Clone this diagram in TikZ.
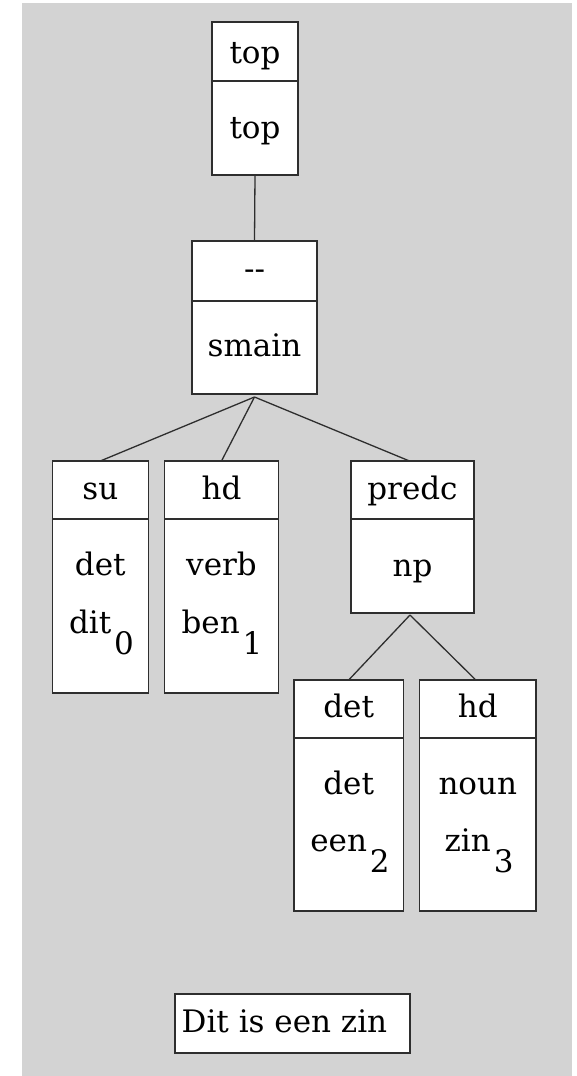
\documentclass[tikz,border=0pt]{standalone}
\usepackage{fontspec}
\setmainfont{DejaVu Serif}
\definecolor{bgc}{HTML}{D3D3D3}
\definecolor{ink}{HTML}{2E2E2E}
\tikzset{
  box/.style={draw=ink, fill=white, line width=1.3pt, inner sep=0pt, outer sep=0pt, rectangle},
  lbl/.style={anchor=base, inner sep=0pt, text=black, font=\fontsize{31}{37}\selectfont},
  edge/.style={draw=ink, line width=1.3pt},
  divider/.style={draw=ink, line width=1.3pt}
}
\newcommand{\sub}[1]{\hspace{3pt}\raisebox{-21pt}{#1}}
\begin{document}
\begin{tikzpicture}[x=1pt,y=-1pt]
\useasboundingbox (0,0) rectangle (577,1076);
\fill[white] (0,0) rectangle (577,1076);
\fill[bgc] (22,3) rectangle (572,1076);

% boxes
\node[box, minimum width=86pt, minimum height=153pt] (topbox) at (255,98.5) {};
\node[box, minimum width=125pt, minimum height=153pt] (smain) at (254.5,317.5) {};
\node[box, minimum width=96pt, minimum height=232pt] (su) at (100.3,577) {};
\node[box, minimum width=113.5pt, minimum height=232pt] (hdv) at (221.5,577) {};
\node[box, minimum width=123pt, minimum height=152pt] (predc) at (412.5,537) {};
\node[box, minimum width=109.5pt, minimum height=231pt] (det) at (348.7,795.5) {};
\node[box, minimum width=116.5pt, minimum height=231pt] (hdn) at (477.8,795.5) {};
\node[box, minimum width=235pt, minimum height=59pt] (sent) at (292.5,1023.5) {};

% dividers
\draw[divider] ([yshift=-59pt]topbox.north west) -- ([yshift=-59pt]topbox.north east);
\draw[divider] ([yshift=-60pt]smain.north west) -- ([yshift=-60pt]smain.north east);
\draw[divider] ([yshift=-58pt]su.north west) -- ([yshift=-58pt]su.north east);
\draw[divider] ([yshift=-58pt]hdv.north west) -- ([yshift=-58pt]hdv.north east);
\draw[divider] ([yshift=-58pt]predc.north west) -- ([yshift=-58pt]predc.north east);
\draw[divider] ([yshift=-58pt]det.north west) -- ([yshift=-58pt]det.north east);
\draw[divider] ([yshift=-58pt]hdn.north west) -- ([yshift=-58pt]hdn.north east);

% connectors
\coordinate (apex1) at ([yshift=-3pt]smain.south);
\coordinate (apex2) at (410,615);
\draw[edge] (topbox.south) -- (smain.north);
\draw[edge] (apex1) -- (su.north);
\draw[edge] (apex1) -- (hdv.north);
\draw[edge] (apex1) -- ([xshift=-3pt]predc.north);
\draw[edge] (apex2) -- (det.north);
\draw[edge] (apex2) -- ([xshift=-2pt]hdn.north);

% labels
\node[lbl] (t1) at (255,63) {top};
\node[lbl] (t2) at (255,138) {top};
\node[lbl] (s1) at (254.5,279) {-{}-};
\node[lbl] (s2) at (254.5,356.7) {smain};
\node[lbl] (a1) at (100.3,499) {su};
\node[lbl] (a2) at (100.3,575.7) {det};
\node[lbl] (a3) at (101.5,633.3) {dit\sub{0}};
\node[lbl] (b1) at (221.5,499) {hd};
\node[lbl] (b2) at (221.5,575.7) {verb};
\node[lbl] (b3) at (222,633.3) {ben\sub{1}};
\node[lbl] (c1) at (412.5,499) {predc};
\node[lbl] (c2) at (412.5,576) {np};
\node[lbl] (d1) at (348.7,717.3) {det};
\node[lbl] (d2) at (348.7,794) {det};
\node[lbl] (d3) at (350,851.7) {een\sub{2}};
\node[lbl] (e1) at (477.8,717.3) {hd};
\node[lbl] (e2) at (477.8,794) {noun};
\node[lbl] (e3) at (479,851.7) {zin\sub{3}};
\node[lbl, anchor=base west] (w) at (181.5,1032.7) {Dit is een zin};
\end{tikzpicture}
\end{document}
